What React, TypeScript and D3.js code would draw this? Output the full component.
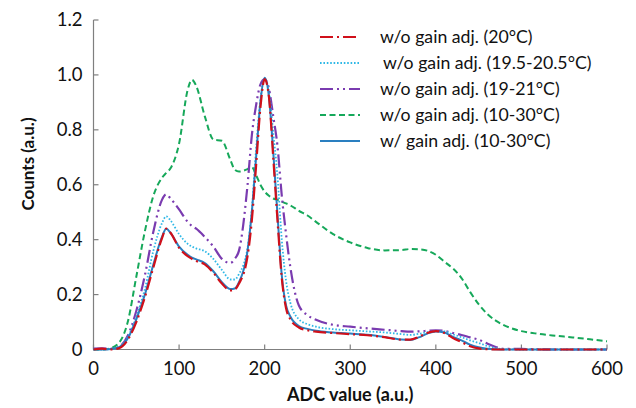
import React from "react";
import * as d3 from "d3";

const xValues = [0, 10, 20, 30, 40, 50, 60, 70, 80, 85, 90, 100, 110, 115, 120, 130, 140, 150, 160, 165, 170, 180, 185, 190, 195, 200, 205, 210, 215, 220, 225, 230, 240, 250, 260, 280, 300, 320, 340, 360, 370, 380, 390, 400, 410, 420, 430, 440, 450, 460, 470, 480, 500, 520, 540, 560, 580, 600];

const red20 = [0, 0.003, 0, 0.005, 0.035, 0.1, 0.19, 0.3, 0.405, 0.44, 0.425, 0.37, 0.34, 0.33, 0.322, 0.31, 0.28, 0.24, 0.215, 0.218, 0.24, 0.34, 0.47, 0.67, 0.88, 0.985, 0.92, 0.7, 0.47, 0.26, 0.15, 0.11, 0.08, 0.07, 0.065, 0.06, 0.056, 0.052, 0.045, 0.036, 0.036, 0.046, 0.06, 0.067, 0.06, 0.042, 0.027, 0.012, 0.004, 0.001, 0, 0, 0, 0, 0, 0, 0, 0];

const cyan195 = [0, 0, 0.002, 0.01, 0.045, 0.12, 0.22, 0.36, 0.46, 0.485, 0.47, 0.42, 0.385, 0.375, 0.368, 0.358, 0.33, 0.29, 0.255, 0.255, 0.275, 0.37, 0.51, 0.73, 0.91, 0.985, 0.94, 0.79, 0.63, 0.4, 0.25, 0.17, 0.11, 0.092, 0.083, 0.074, 0.07, 0.066, 0.062, 0.056, 0.053, 0.057, 0.063, 0.066, 0.066, 0.055, 0.045, 0.033, 0.024, 0.013, 0.005, 0.001, 0, 0, 0, 0, 0, 0];

const purple19 = [0.003, 0.004, 0.002, 0.01, 0.05, 0.14, 0.27, 0.43, 0.545, 0.565, 0.55, 0.51, 0.465, 0.45, 0.44, 0.41, 0.375, 0.33, 0.315, 0.33, 0.36, 0.6, 0.78, 0.89, 0.965, 0.985, 0.95, 0.85, 0.74, 0.56, 0.42, 0.3, 0.16, 0.125, 0.108, 0.09, 0.083, 0.077, 0.072, 0.067, 0.065, 0.066, 0.068, 0.07, 0.068, 0.06, 0.053, 0.044, 0.036, 0.022, 0.009, 0.002, 0.002, 0.001, 0, 0, 0, 0];

const green10 = [0, 0, 0.005, 0.025, 0.1, 0.265, 0.43, 0.56, 0.625, 0.643, 0.66, 0.75, 0.945, 0.982, 0.96, 0.85, 0.765, 0.76, 0.69, 0.655, 0.648, 0.657, 0.665, 0.635, 0.6, 0.575, 0.56, 0.55, 0.545, 0.538, 0.532, 0.525, 0.505, 0.488, 0.465, 0.42, 0.39, 0.37, 0.361, 0.362, 0.366, 0.365, 0.36, 0.345, 0.32, 0.295, 0.26, 0.21, 0.165, 0.13, 0.105, 0.088, 0.067, 0.057, 0.05, 0.044, 0.037, 0.03];

const blueAdj = [0, 0, 0.002, 0.008, 0.04, 0.11, 0.2, 0.31, 0.41, 0.44, 0.425, 0.375, 0.345, 0.335, 0.328, 0.315, 0.285, 0.245, 0.22, 0.222, 0.245, 0.36, 0.5, 0.7, 0.9, 0.99, 0.92, 0.72, 0.49, 0.27, 0.16, 0.12, 0.085, 0.075, 0.068, 0.062, 0.058, 0.054, 0.046, 0.036, 0.035, 0.044, 0.058, 0.066, 0.062, 0.046, 0.033, 0.018, 0.008, 0.003, 0.001, 0, 0, 0, 0, 0, 0, 0];

const legendLabels = [
  "w/o gain adj. (20°C)",
  "w/o gain adj. (19.5-20.5°C)",
  "w/o gain adj. (19-21°C)",
  "w/o gain adj. (10-30°C)",
  "w/ gain adj. (10-30°C)",
];

const xTicks = [0, 100, 200, 300, 400, 500, 600];
const yTicks = [0, 0.2, 0.4, 0.6, 0.8, 1.0, 1.2];

const seriesList = [
  { name: legendLabels[0], values: red20, color: "#d0101a", dash: "13,4,2,4", width: 2.2 },
  { name: legendLabels[1], values: cyan195, color: "#2fb8e6", dash: "1.6,1.8", width: 1.8 },
  { name: legendLabels[2], values: purple19, color: "#7a3bb0", dash: "13,4,2,4,2,4", width: 2.2 },
  { name: legendLabels[3], values: green10, color: "#16a85a", dash: "6,3.5", width: 2 },
  { name: legendLabels[4], values: blueAdj, color: "#2a7fc0", dash: "", width: 2 },
];

const FONT = "Lato, 'Open Sans', sans-serif";

export default function App() {
  const W = 636;
  const H = 408;
  const left = 93.5;
  const right = 607;
  const top = 20;
  const bottom = 349.5;

  const x = d3.scaleLinear().domain([0, 600]).range([left, right]);
  const y = d3.scaleLinear().domain([0, 1.2]).range([bottom, top]);

  const line = d3
    .line<number>()
    .x((_, i) => x(xValues[i]))
    .y((d) => y(d))
    .curve(d3.curveMonotoneX);

  const axisColor = "#7f7f7f";
  const drawOrder = [3, 2, 1, 4, 0];

  return (
    <svg
      width={W}
      height={H}
      style={{ position: "absolute", left: 0, top: 0, background: "#fff" }}
      fontFamily={FONT}
    >
      {/* axes */}
      <line x1={left} x2={left} y1={top} y2={bottom} stroke={axisColor} strokeWidth={1.2} />
      <line x1={left} x2={right} y1={bottom} y2={bottom} stroke={axisColor} strokeWidth={1.2} />
      {yTicks.map((t) => (
        <g key={"y" + t}>
          <line x1={left} x2={left + 5} y1={y(t)} y2={y(t)} stroke={axisColor} strokeWidth={1.2} />
          <text x={left - 11} y={y(t)} dy="0.35em" textAnchor="end" fontSize={18.5} fill="#111">
            {t === 0 ? "0" : t.toFixed(1)}
          </text>
        </g>
      ))}
      {xTicks.map((t) => (
        <g key={"x" + t}>
          <line x1={x(t)} x2={x(t)} y1={bottom} y2={bottom - 5} stroke={axisColor} strokeWidth={1.2} />
          <text x={x(t)} y={bottom + 25} textAnchor="middle" fontSize={18.5} fill="#111">
            {t}
          </text>
        </g>
      ))}

      {/* axis titles */}
      <text x={(left + right) / 2} y={401} textAnchor="middle" fontSize={18} fontWeight="bold" fill="#111">
        ADC value (a.u.)
      </text>
      <text
        transform={`translate(34, 164) rotate(-90)`}
        textAnchor="middle"
        fontSize={17}
        fontWeight="bold"
        fill="#111"
      >
        Counts (a.u.)
      </text>

      {/* series */}
      {drawOrder.map((i) => {
        const s = seriesList[i];
        return (
          <path
            key={s.name}
            d={line(s.values) || ""}
            fill="none"
            stroke={s.color}
            strokeWidth={s.width}
            strokeDasharray={s.dash || undefined}
            strokeLinejoin="round"
          />
        );
      })}

      {/* legend */}
      {seriesList.map((s, i) => {
        const ly = 37 + i * 26;
        return (
          <g key={"lg" + i}>
            <line
              x1={320}
              x2={360}
              y1={ly}
              y2={ly}
              stroke={s.color}
              strokeWidth={s.width}
              strokeDasharray={s.dash || undefined}
            />
            <text x={i === 1 ? 383 : 380} y={ly} dy="0.33em" fontSize={17.7} fill="#111">
              {s.name}
            </text>
          </g>
        );
      })}
    </svg>
  );
}
